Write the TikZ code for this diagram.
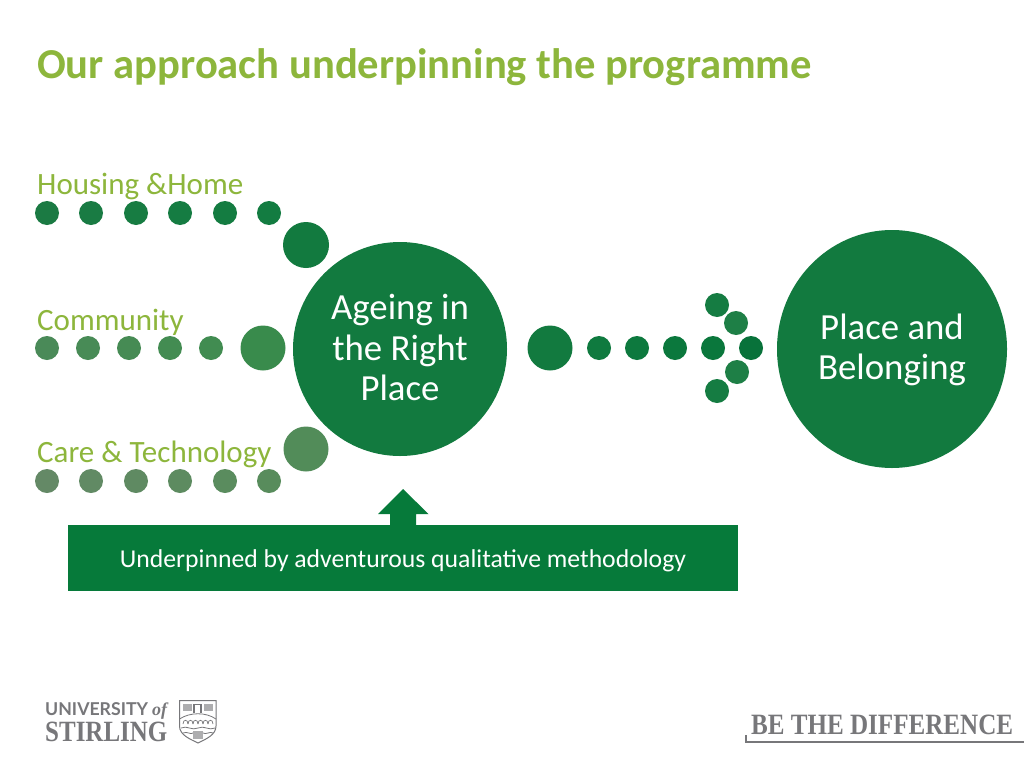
\documentclass[tikz,border=0pt]{standalone}
\usepackage{fontspec}
\setmainfont{Carlito}
\newfontfamily\logoserif{Liberation Serif}
\newfontfamily\logoserifn[FakeStretch=0.85]{Liberation Serif}
\newfontfamily\logosans{Lato}
\definecolor{titlegreen}{HTML}{8DB63C}
\definecolor{maingreen}{HTML}{127A3F}
\definecolor{bannergreen}{HTML}{067A3A}
\definecolor{logogrey}{HTML}{77777A}
\tikzset{
  dot/.style={circle,draw=none,fill=#1,minimum size=24pt,inner sep=0pt},
  bigdot/.style={circle,draw=none,fill=#1,minimum size=45pt,inner sep=0pt},
  lbl/.style={anchor=base west,inner sep=0pt,text=titlegreen,font=\fontsize{31}{31}\selectfont},
  hub/.style={circle,draw=none,fill=maingreen,inner sep=0pt,text=white,align=center,font=\fontsize{36.8}{40.5}\selectfont},
  shieldline/.style={draw=logogrey,line width=1pt,fill=none}
}
\begin{document}
\begin{tikzpicture}[x=1pt,y=-1pt]
\useasboundingbox (0,0) rectangle (1024,768);
\fill[white] (0,0) rectangle (1024,768);
\node[anchor=base west,inner sep=0pt,text=titlegreen,font=\fontsize{42.6}{42.6}\selectfont\bfseries] (title) at (37,78) {Our approach underpinning the programme};
\node[lbl] (l1) at (37,194) {Housing \&Home};
\node[lbl] (l2) at (37,330) {Community};
\node[lbl] (l3) at (37,462) {Care \& Technology};
% housing
\foreach \n/\x/\c in {1/47/1B7A43,2/91/197B43,3/136/177C42,4/180/157C42,5/225/147C41,6/269/137C41}{
  \definecolor{tmpc}{HTML}{\c}
  \node[dot=tmpc] (a\n) at (\x,213) {};
}
\node[bigdot=maingreen,minimum size=46pt] (a7) at (306,245) {};
% community
\foreach \n/\x/\c in {1/47/4A8A58,2/88/488B56,3/129/468B54,4/170/438C52,5/211/418C51}{
  \definecolor{tmpc}{HTML}{\c}
  \node[dot=tmpc] (b\n) at (\x,348) {};
}
\definecolor{commbig}{HTML}{398B4C}
\node[bigdot=commbig] (b6) at (263,348) {};
% care
\foreach \n/\x/\c in {1/47/648966,2/91/618A64,3/136/5F8A62,4/180/5D8B60,5/225/5A8C5E,6/269/588C5C}{
  \definecolor{tmpc}{HTML}{\c}
  \node[dot=tmpc] (c\n) at (\x,481) {};
}
\definecolor{carebig}{HTML}{528C59}
\node[bigdot=carebig] (c7) at (306,449) {};
% hubs
\node[hub,minimum size=214pt] (hub) at (400,349) {};
\node[inner sep=0pt,text=white,align=center,font=\fontsize{36.8}{40.5}\selectfont] (hubtext) at (400,347.5) {Ageing in\\the Right\\Place};
\fill[maingreen] (892,349) ellipse [x radius=115, y radius=119];
\node[inner sep=0pt,text=white,align=center,font=\fontsize{36.8}{40.5}\selectfont] (goal) at (892,350) {Place and\\Belonging};
% arrow dots
\node[bigdot=maingreen] (d0) at (550,348) {};
\foreach \n/\x/\y/\c in {1/599/348/0F7A3F,2/637/348/0D793E,3/675/348/0B783D,4/713/348/0A773C,5/751/348/08723A,6/717/305/157C42,7/736/323/1E7F46,8/737/372/1E7F46,9/717/391/157C42}{
  \definecolor{tmpc}{HTML}{\c}
  \node[dot=tmpc] (d\n) at (\x,\y) {};
}
% banner
\fill[bannergreen] (403,489) -- (428.5,514) -- (416,514) -- (416,526) -- (390,526) -- (390,514) -- (378,514) -- cycle;
\node[anchor=north west,inner sep=0pt,minimum width=670pt,minimum height=66pt,fill=bannergreen,text=white] (banner) at (68,525) {};
\node[inner sep=0pt,text=white,font=\fontsize{25.7}{25.7}\selectfont,anchor=base] (bannertext) at (403,567) {Underpinned by adventurous qualitative methodology};
% logo
\node[anchor=base west,inner sep=0pt,text=logogrey,font=\logosans\bfseries\fontsize{17.7}{17.7}\selectfont] (uni) at (45,715) {UNIVERSITY};
\node[anchor=base west,inner sep=0pt,text=logogrey,font=\logoserif\bfseries\itshape\fontsize{18}{18}\selectfont] (of) at (152,715) {of};
\node[anchor=base west,inner sep=0pt,text=logogrey,font=\logoserifn\bfseries\fontsize{29.4}{29.4}\selectfont] (stirling) at (45,741) {STIRLING};
% shield
\draw[shieldline] (179.5,700.5) -- (216,700.5) -- (216,726) .. controls (216,735) and (206,739) .. (198,743) .. controls (190,739) and (179.5,735) .. (179.5,726) -- cycle;
\draw[logogrey,line width=.8pt] (179.5,719) .. controls (190,712) and (206,712) .. (216,719);
\fill[logogrey!60] (183,704) rectangle (192,711);
\fill[logogrey!60] (204,704) rectangle (213,711);
\draw[logogrey,line width=1.2pt] (194,704) -- (194,713) (201,704) -- (201,713) (193,704.5) -- (202,704.5);
\foreach \x in {183,188,193,198,203,208}{\draw[logogrey,line width=.7pt] (\x,724) .. controls (\x,719) and (\x+5,719) .. (\x+5,724);}
\draw[logogrey,line width=.8pt] (181,728) .. controls (187,725) and (192,731) .. (198,728) .. controls (204,725) and (209,731) .. (215,728);
\draw[logogrey,line width=.8pt] (183,733) .. controls (187,731) and (191,735) .. (193,733) (203,733) .. controls (206,735) and (210,731) .. (213,733);
\fill[logogrey!60] (193,731) rectangle (203,739);
% tagline
\node[anchor=base west,inner sep=0pt,text=logogrey,font=\logoserifn\bfseries\fontsize{29.5}{29.5}\selectfont] (tag) at (751,734.5) {BE THE DIFFERENCE};
\draw[logogrey,line width=2pt] (745.5,735) -- (745.5,741.5) -- (1024,741.5);
\end{tikzpicture}
\end{document}
